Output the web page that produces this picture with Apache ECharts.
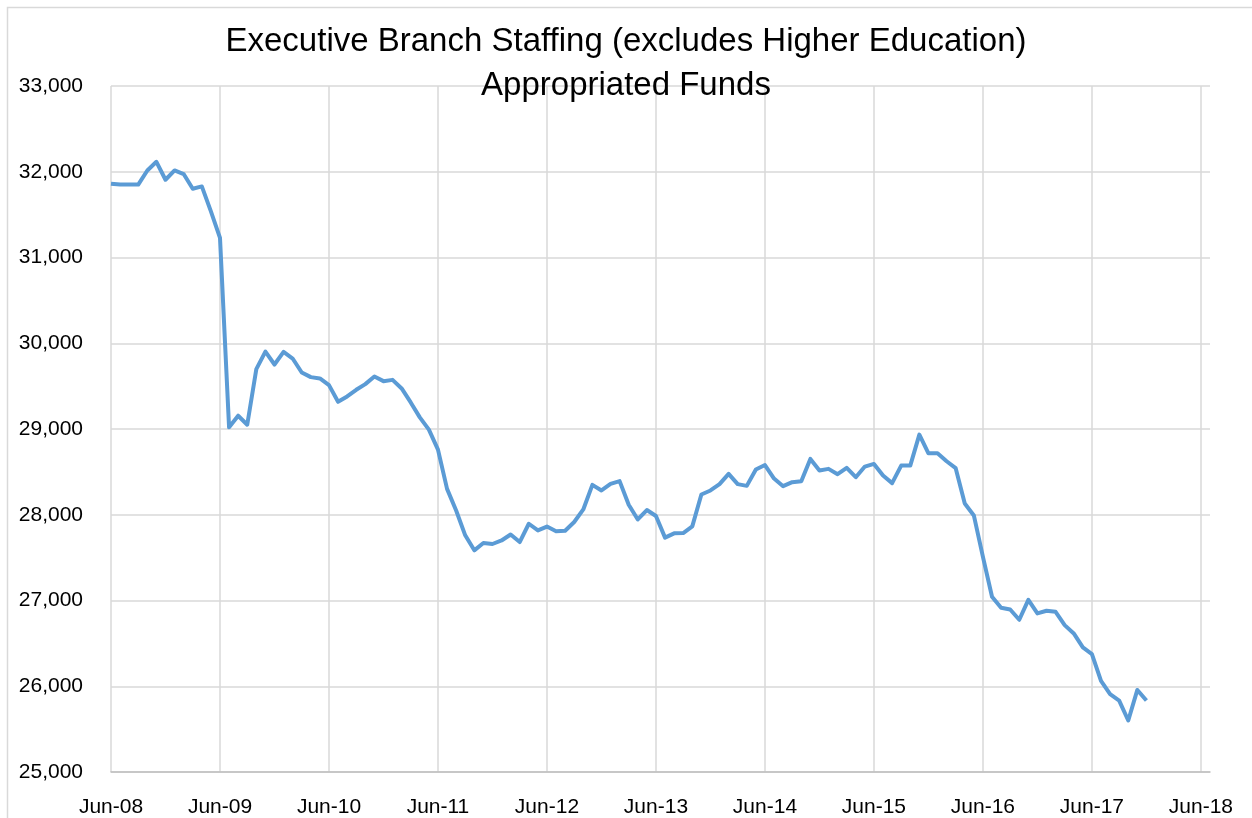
<!DOCTYPE html>
<html>
<head>
<meta charset="utf-8">
<script src="https://cdn.jsdelivr.net/npm/echarts@6/dist/echarts.min.js"></script>
<style>html,body{margin:0;padding:0;background:#fff;}#c{width:1252px;height:818px;}</style>
</head>
<body>
<div id="c"></div>
<script>
// Monthly staffing, Jun-08 .. Dec-17
const staffing = [
  31860, 31850, 31850, 31850, 32015, 32116, 31907,
  32015, 31973, 31802, 31829, 31538, 31229, 29020, 29155, 29050, 29698, 29903, 29752,
  29899, 29822, 29659, 29605, 29590, 29512, 29317, 29380, 29457, 29523, 29612, 29558,
  29573, 29473, 29310, 29136, 28992, 28760, 28302, 28050, 27760, 27585, 27670, 27659,
  27700, 27770, 27682, 27895, 27817, 27862, 27808, 27814, 27915, 28062, 28349, 28283,
  28360, 28392, 28116, 27945, 28055, 27985, 27733, 27783, 27787, 27864, 28236, 28283,
  28357, 28477, 28357, 28337, 28527, 28580, 28422, 28333, 28380, 28391, 28651, 28515,
  28535, 28473, 28547, 28438, 28562, 28593, 28457, 28369, 28573, 28573, 28934, 28717,
  28717, 28624, 28543, 28132, 27992, 27508, 27043, 26915, 26895, 26775, 27008, 26849,
  26880, 26868, 26713, 26616, 26453, 26375, 26062, 25907, 25833, 25601, 25957, 25833
];
const monthNames = ['Jan','Feb','Mar','Apr','May','Jun','Jul','Aug','Sep','Oct','Nov','Dec'];
// Axis categories: Jun-08 .. Jul-18
const categories = [];
for (let y = 2008, m = 5; !(y === 2018 && m === 7); ) {
  categories.push(monthNames[m] + '-' + String(y % 100).padStart(2, '0'));
  m++; if (m === 12) { m = 0; y++; }
}
const titleLines = ['Executive Branch Staffing (excludes Higher Education)', 'Appropriated Funds'];
const yTicks = { min: 25000, max: 33000, interval: 1000 };

const chart = echarts.init(document.getElementById('c'));
chart.setOption({
  animation: false,
  backgroundColor: '#fff',
  graphic: [{
    type: 'rect', silent: true, z: -10,
    shape: { x: 7.5, y: 7.5, width: 1300, height: 900 },
    style: { fill: 'none', stroke: '#d9d9d9', lineWidth: 1.5 }
  }],
  title: {
    text: titleLines.join('\n'),
    left: 'center', top: 15,
    textStyle: { fontFamily: 'Liberation Sans', fontSize: 33, fontWeight: 'normal', color: '#000', lineHeight: 44 }
  },
  grid: { left: 111, right: 42, top: 86, bottom: 45 },
  xAxis: {
    type: 'category',
    data: categories,
    boundaryGap: false,
    axisLine: { lineStyle: { color: '#bfbfbf', width: 1.5 } },
    axisTick: { show: false },
    axisLabel: {
      interval: 11, margin: 25, color: '#000', fontFamily: 'Liberation Sans', fontSize: 21
    },
    splitLine: { show: true, interval: 11, lineStyle: { color: '#d9d9d9', width: 1.5 } }
  },
  yAxis: {
    type: 'value',
    min: yTicks.min, max: yTicks.max, interval: yTicks.interval,
    axisLine: { show: false },
    axisTick: { show: false },
    axisLabel: {
      margin: 28, color: '#000', fontFamily: 'Liberation Sans', fontSize: 21,
      formatter: v => v.toLocaleString('en-US')
    },
    splitLine: { lineStyle: { color: '#d9d9d9', width: 1.5 } }
  },
  series: [{
    type: 'line',
    data: staffing,
    showSymbol: false,
    lineStyle: { color: '#5b9bd5', width: 4, join: 'round' },
    itemStyle: { color: '#5b9bd5' }
  }]
});
</script>
</body>
</html>
